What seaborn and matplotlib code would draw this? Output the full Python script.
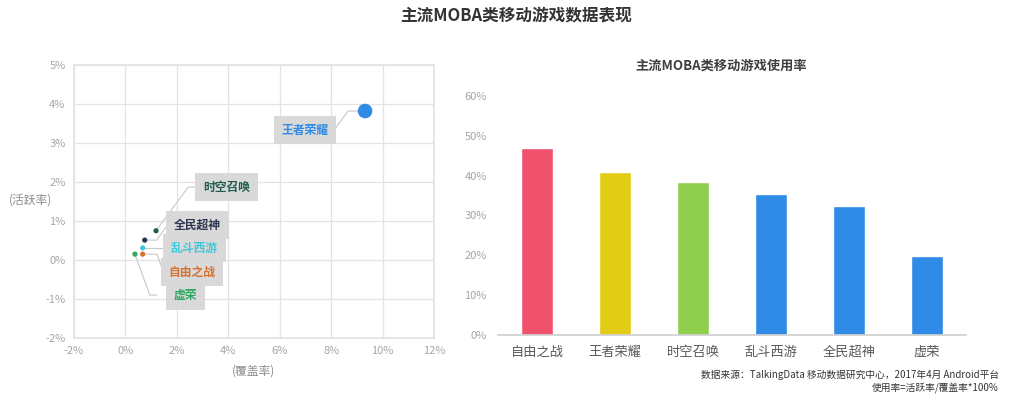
import pandas as pd
import matplotlib
matplotlib.use('Agg')
import matplotlib.pyplot as plt
from matplotlib.ticker import FuncFormatter
import seaborn as sns

sns.set_theme(style='white')
plt.rcParams['font.family'] = ['Noto Sans CJK SC', 'DejaVu Sans']
plt.rcParams['axes.unicode_minus'] = False

# scatter data: coverage / active rate (%)
games = ['王者荣耀', '时空召唤', '全民超神', '乱斗西游', '自由之战', '虚荣']
coverage = [9.32, 1.19, 0.75, 0.67, 0.67, 0.37]
active = [3.82, 0.75, 0.51, 0.31, 0.15, 0.15]
dot_size = [110, 14, 14, 14, 14, 14]
dot_colors = ['#2F8BE6', '#1E5E4E', '#2C3550', '#3CC8D8', '#D87030', '#2DA860']

# bar data: usage rate (%)
bar_games = ['自由之战', '王者荣耀', '时空召唤', '乱斗西游', '全民超神', '虚荣']
usage = [46.9, 40.8, 38.3, 35.3, 32.4, 19.8]
bar_colors = ['#F0526E', '#E2CC16', '#90CE4E', '#2F8BE6', '#2F8BE6', '#2F8BE6']

# label box centres and leader line elbows (data coords)
label_pos = {
    '王者荣耀': (6.98, 3.33), '时空召唤': (3.93, 1.87), '全民超神': (2.80, 0.905),
    '乱斗西游': (2.69, 0.30), '自由之战': (2.58, -0.315), '虚荣': (2.33, -0.91),
}
leader = {
    '王者荣耀': [(8.66, 3.82), (8.11, 3.33)],
    '时空召唤': [(2.44, 1.87), (2.78, 1.87)],
    '全民超神': [(1.21, 0.51), (1.65, 0.905)],
    '乱斗西游': [(1.54, 0.31)],
    '自由之战': [(1.23, 0.15), (1.42, -0.2)],
    '虚荣': [(0.95, -0.9), (1.21, -0.9)],
}

df = pd.DataFrame({'game': games, 'coverage': coverage, 'active': active})
bars = pd.DataFrame({'game': bar_games, 'usage': usage})

fig = plt.figure(figsize=(10.14, 4.0), dpi=100)
ax1 = fig.add_axes([74 / 1014, 1 - 338 / 400, 360 / 1014, 273 / 400])
ax2 = fig.add_axes([498 / 1014, 1 - 334.7 / 400, 468 / 1014, 238.7 / 400])

grid_c = '#E3E3E3'
tick_c = '#A6A6A6'

# ---- left: scatter
for i, row in df.iterrows():
    g = row['game']
    pts = [(row['coverage'], row['active'])] + leader[g]
    ax1.plot([p[0] for p in pts], [p[1] for p in pts], color='#C8C8C8', lw=0.8, zorder=2)
sns.scatterplot(data=df, x='coverage', y='active', hue='game', palette=dot_colors,
                size='game', sizes=dict(zip(games, dot_size)), legend=False,
                edgecolor='none', ax=ax1, zorder=3)
for g, c in zip(games, dot_colors):
    x, y = label_pos[g]
    ax1.text(x, y, g, ha='center', va='center', fontsize=8.5, fontweight='bold', color=c,
             bbox=dict(boxstyle='square,pad=0.65', fc='#D9D9D9', ec='none'), zorder=4)

ax1.set_xlim(-2, 12)
ax1.set_ylim(-2, 5)
ax1.set_xticks(range(-2, 13, 2))
ax1.set_yticks(range(-2, 6))
ax1.xaxis.set_major_formatter(FuncFormatter(lambda v, p: f'{v:.0f}%'))
ax1.yaxis.set_major_formatter(FuncFormatter(lambda v, p: f'{v:.0f}%'))
ax1.grid(True, color=grid_c, lw=0.9)
ax1.set_axisbelow(True)
for s in ax1.spines.values():
    s.set_color(grid_c)
ax1.tick_params(length=0, labelsize=8, labelcolor=tick_c, pad=6)
ax1.set_xlabel('(覆盖率)', fontsize=8.5, color='#8C8C8C', labelpad=6)
ax1.set_ylabel('')
fig.text(30 / 1014, 1 - 200 / 400, '(活跃率)', ha='center', va='center',
         fontsize=8.5, color='#8C8C8C')

# ---- right: bars
sns.barplot(data=bars, x='game', y='usage', hue='game', palette=bar_colors,
            width=0.4, legend=False, ax=ax2, saturation=1)
ax2.set_ylim(0, 60)
ax2.set_xlim(-0.5, 5.5)
ax2.set_yticks(range(0, 61, 10))
ax2.yaxis.set_major_formatter(FuncFormatter(lambda v, p: f'{v:.0f}%'))
for s in ['top', 'right', 'left']:
    ax2.spines[s].set_visible(False)
ax2.spines['bottom'].set_color('#D0D0D0')
ax2.tick_params(axis='y', length=0, labelsize=8, labelcolor=tick_c, pad=8)
ax2.tick_params(axis='x', length=0, labelsize=9.5, labelcolor='#595959', pad=8)
ax2.set_xticks([i - 0.5 for i in range(7)], minor=True)
ax2.tick_params(axis='x', which='minor', length=4, color='#D0D0D0', width=0.8)
ax2.set_xlabel('')
ax2.set_ylabel('')
ax2.set_title('主流MOBA类移动游戏使用率', fontsize=9.5, fontweight='bold', color='#404040',
              x=0.476, y=1.0, pad=19)

fig.text(0.509, 0.962, '主流MOBA类移动游戏数据表现', ha='center', va='center',
         fontsize=12, fontweight='bold', color='#333333')
fig.text(0.985, 0.063, '数据来源：TalkingData 移动数据研究中心，2017年4月 Android平台',
         ha='right', va='center', fontsize=7, color='#333333')
fig.text(0.985, 0.030, '使用率=活跃率/覆盖率*100%', ha='right', va='center',
         fontsize=7, color='#333333')

fig.savefig('out.png', dpi=100, facecolor='white')
